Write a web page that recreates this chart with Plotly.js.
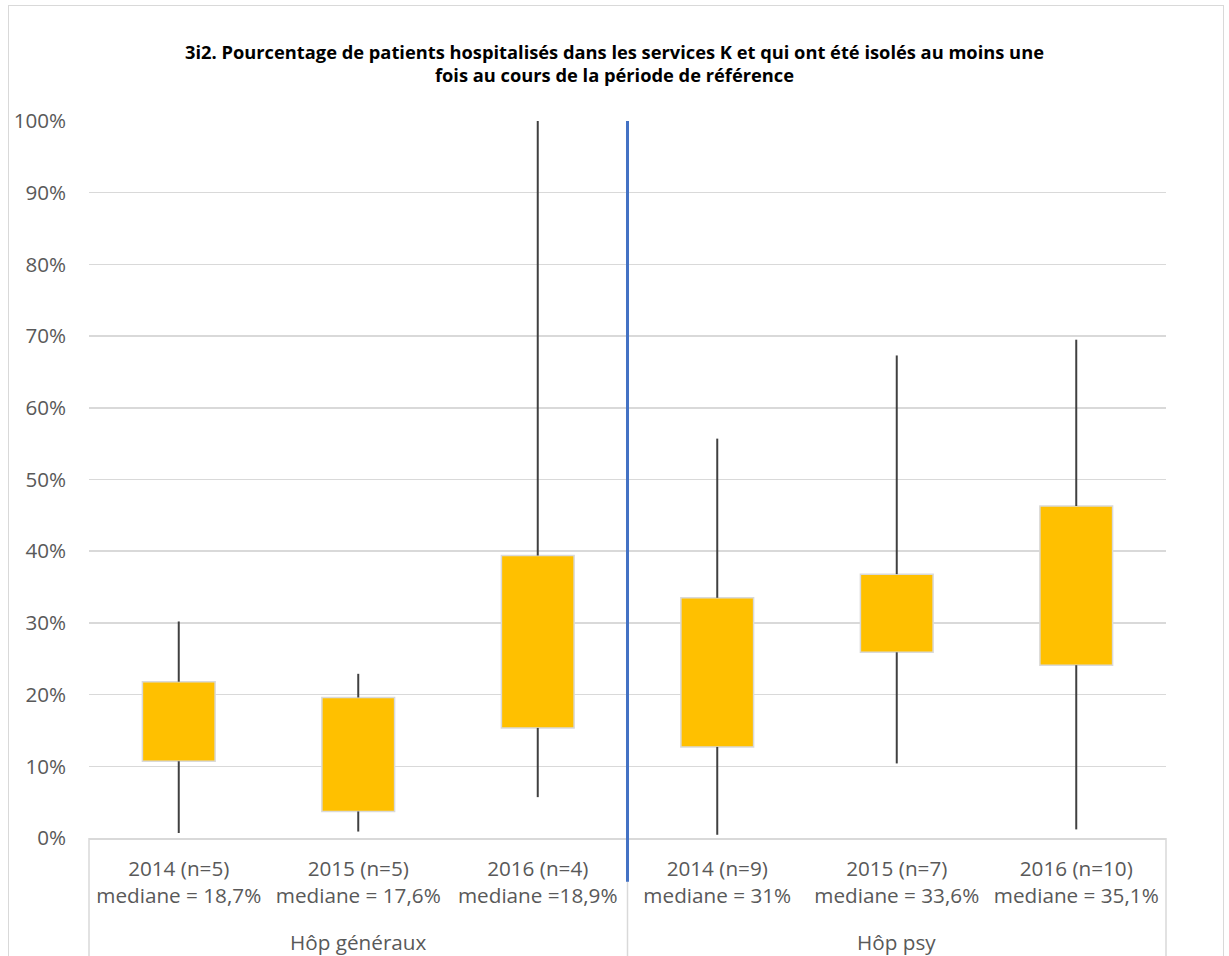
<!DOCTYPE html>
<html>
<head>
<meta charset="utf-8">
<script src="https://cdn.plot.ly/plotly-3.0.1.min.js"></script>
<style>
  html, body { margin: 0; padding: 0; background: #fff; }
  #wrap { position: relative; width: 1229px; height: 956px; }
  #chart { width: 1229px; height: 956px; }
  #frame { position: absolute; left: 8px; top: 5px; width: 1214px; height: 960px; border: 1px solid #d9d9d9; pointer-events: none; }
</style>
</head>
<body>
<div id="wrap"><div id="chart"></div><div id="frame"></div></div>
<script>
// ---- data (values in %) ----
const categories = [
  "2014 (n=5)<br>mediane = 18,7%",
  "2015 (n=5)<br>mediane = 17,6%",
  "2016 (n=4)<br>mediane =18,9%",
  "2014 (n=9)<br>mediane = 31%",
  "2015 (n=7)<br>mediane = 33,6%",
  "2016 (n=10)<br>mediane = 35,1%"
];
const groups = ["Hôp généraux", "Hôp psy"];
const minVals = [0.7, 0.9, 5.7, 0.45, 10.4, 1.2];
const q1Vals  = [10.7, 3.7, 15.35, 12.7, 25.9, 24.1];
const q3Vals  = [21.8, 19.6, 39.4, 33.5, 36.8, 46.3];
const maxVals = [30.2, 22.9, 100, 55.7, 67.3, 69.5];
const yTickVals = [0, 10, 20, 30, 40, 50, 60, 70, 80, 90, 100];
const yTickText = yTickVals.map(v => v + "%");

// ---- whiskers (min->q1, q3->max) ----
const wx = [], wy = [];
categories.forEach((c, i) => {
  wx.push(c, c, null, c, c, null);
  wy.push(minVals[i], q1Vals[i], null, q3Vals[i], maxVals[i], null);
});

const FONT = "Open Sans, Noto Sans, sans-serif";
const GREY = "#595959";
const LINE = "#d9d9d9";

const traces = [
  {
    type: "bar",
    x: categories,
    base: q1Vals,
    y: q3Vals.map((v, i) => v - q1Vals[i]),
    width: 0.405,
    marker: { color: "#FFC000", line: { color: LINE, width: 1.5 } },
    hoverinfo: "skip",
    showlegend: false
  },
  {
    type: "scatter",
    mode: "lines",
    x: wx,
    y: wy,
    line: { color: "#404040", width: 2 },
    connectgaps: false,
    hoverinfo: "skip",
    showlegend: false
  }
];

const bottomY = -0.17;
const layout = {
  width: 1229,
  height: 956,
  margin: { l: 89, r: 63, t: 121, b: 118 },
  paper_bgcolor: "#fff",
  plot_bgcolor: "#fff",
  showlegend: false,
  title: {
    text: "<b>3i2. Pourcentage de patients hospitalisés dans les services K et qui ont été isolés au moins une<br>fois au cours de la période de référence</b>",
    font: { family: FONT, size: 18.3, color: "#000" },
    x: 0.5, xref: "container", xanchor: "center",
    y: 1 - 58.5 / 956, yref: "container", yanchor: "middle"
  },
  xaxis: {
    type: "category",
    range: [-0.5, 5.5],
    showgrid: false,
    showline: true,
    linecolor: LINE,
    linewidth: 1.5,
    ticks: "",
    ticklabelstandoff: 12,
    tickfont: { family: FONT, size: 20.7, color: GREY },
    fixedrange: true
  },
  yaxis: {
    range: [0, 100],
    tickvals: yTickVals,
    ticktext: yTickText,
    showgrid: true,
    gridcolor: LINE,
    gridwidth: 1.5,
    zeroline: false,
    showline: false,
    ticks: "",
    ticklabelstandoff: 22,
    tickfont: { family: FONT, size: 20.6, color: GREY },
    fixedrange: true
  },
  shapes: [
    { type: "line", xref: "paper", yref: "paper", x0: 0, x1: 0, y0: 0, y1: bottomY, line: { color: LINE, width: 1.5 } },
    { type: "line", xref: "paper", yref: "paper", x0: 0.5, x1: 0.5, y0: 0, y1: bottomY, line: { color: LINE, width: 1.5 } },
    { type: "line", xref: "paper", yref: "paper", x0: 1, x1: 1, y0: 0, y1: bottomY, line: { color: LINE, width: 1.5 } },
    { type: "line", xref: "paper", yref: "paper", x0: 0.5, x1: 0.5, y0: 1, y1: -0.061, line: { color: "#4472C4", width: 3 } }
  ],
  annotations: [
    { text: groups[0], xref: "paper", yref: "paper", x: 0.25, y: -0.1445, xanchor: "center", yanchor: "middle", showarrow: false, font: { family: FONT, size: 20.7, color: GREY } },
    { text: groups[1], xref: "paper", yref: "paper", x: 0.75, y: -0.1445, xanchor: "center", yanchor: "middle", showarrow: false, font: { family: FONT, size: 20.7, color: GREY } }
  ]
};

Plotly.newPlot("chart", traces, layout, { displayModeBar: false, staticPlot: true });
</script>
</body>
</html>
